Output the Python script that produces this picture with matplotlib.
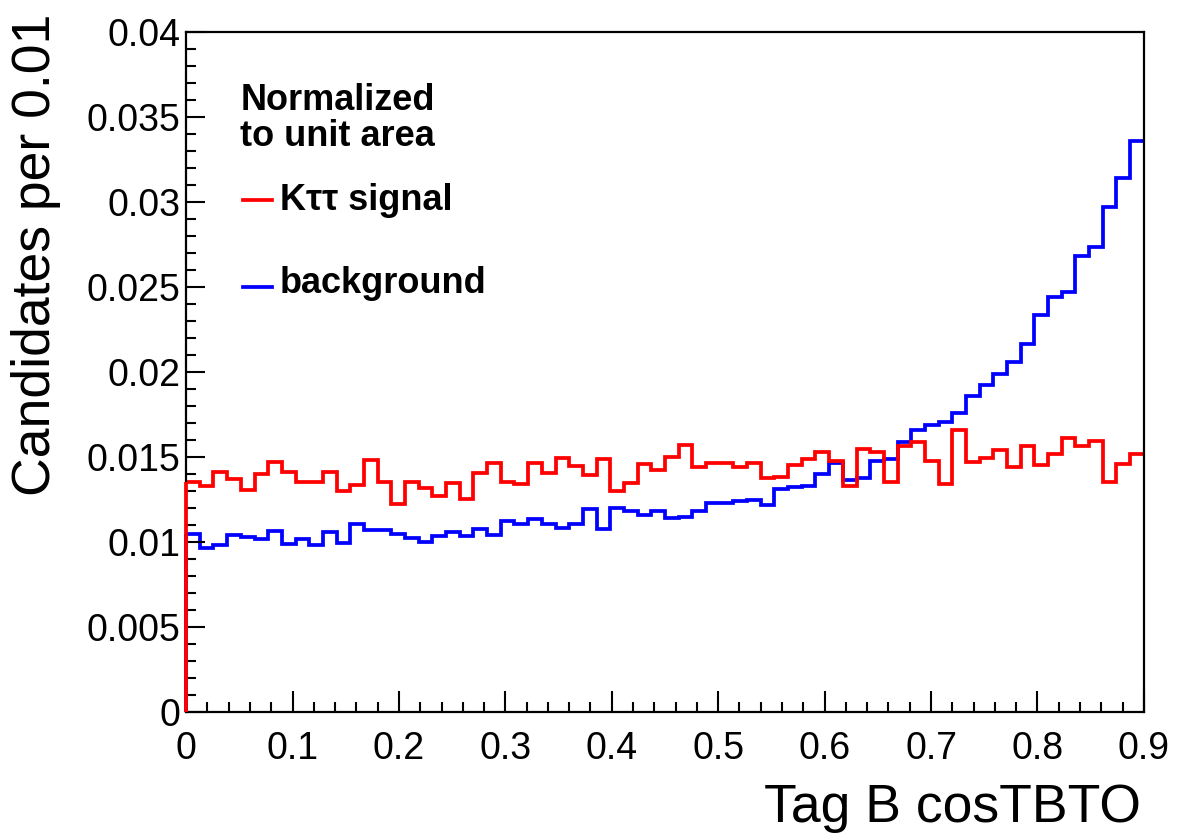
import numpy as np
import matplotlib
matplotlib.use("Agg")
import matplotlib.pyplot as plt
from matplotlib.ticker import MultipleLocator, FuncFormatter
from matplotlib.lines import Line2D

plt.rcParams['font.family'] = ['Liberation Sans', 'DejaVu Sans']

# histogram binning: 70 bins over [0, 0.9]
x_min, x_max, n_bins = 0.0, 0.9, 70
edges = np.linspace(x_min, x_max, n_bins + 1)

# normalized to unit area
signal = [0.01355, 0.01331, 0.0141, 0.01369, 0.01304, 0.0140, 0.01472, 0.0141, 0.01351, 0.01351,
          0.0141, 0.0130, 0.01335, 0.01482, 0.01351, 0.01222, 0.01355, 0.01319, 0.01273, 0.01345,
          0.01253, 0.01404, 0.01463, 0.01355, 0.01341, 0.01467, 0.01408, 0.01496, 0.01449, 0.01394,
          0.01486, 0.0130, 0.01349, 0.01457, 0.01424, 0.01502, 0.01571, 0.01443, 0.01463, 0.01463,
          0.01439, 0.01463, 0.01375, 0.01384, 0.01453, 0.01488, 0.01531, 0.01476, 0.01329, 0.01549,
          0.01531, 0.01355, 0.01567, 0.0159, 0.01478, 0.01339, 0.01659, 0.01472, 0.01496, 0.01541,
          0.01441, 0.01565, 0.01453, 0.01518, 0.0161, 0.01565, 0.01596, 0.01355, 0.01457, 0.01518]

background = [0.01045, 0.00963, 0.00982, 0.01041, 0.01027, 0.01016, 0.01065, 0.00986, 0.01018, 0.00982,
              0.01061, 0.00996, 0.01106, 0.01071, 0.01071, 0.01045, 0.01022, 0.00998, 0.01037, 0.01061,
              0.01037, 0.01076, 0.01041, 0.01125, 0.01106, 0.01135, 0.01104, 0.01084, 0.01104, 0.01192,
              0.01075, 0.01198, 0.01184, 0.01159, 0.01184, 0.01139, 0.01149, 0.01184, 0.01231, 0.01231,
              0.01240, 0.01247, 0.01218, 0.01312, 0.01325, 0.01329, 0.01398, 0.01463, 0.01365, 0.01375,
              0.01474, 0.01488, 0.01586, 0.01657, 0.01688, 0.01704, 0.01761, 0.01861, 0.01924, 0.01986,
              0.02057, 0.02165, 0.02335, 0.02443, 0.02473, 0.02682, 0.02733, 0.02973, 0.03139, 0.03361]

sig_label = "K\u03c4\u03c4 signal"
bkg_label = "background"
note = ["Normalized", "to unit area"]

fig = plt.figure(figsize=(11.78, 8.36), dpi=100)
ax = fig.add_axes([0.158, 0.1483, 0.813, 0.8134])

ax.stairs(background, edges, color='blue', linewidth=2.7, baseline=None)
ax.stairs(signal, edges, color='red', linewidth=2.7, baseline=None)
# left edge of the histograms drops to zero (drawn over the frame like ROOT)
ax.vlines(edges[0], 0, background[0], color='blue', linewidth=2.7, zorder=3, clip_on=False)
ax.vlines(edges[0], 0, signal[0], color='red', linewidth=2.7, zorder=3, clip_on=False)

ax.set_xlim(x_min, x_max)
ax.set_ylim(0, 0.04)

ax.xaxis.set_major_locator(MultipleLocator(0.1))
ax.xaxis.set_minor_locator(MultipleLocator(0.02))
ax.yaxis.set_major_locator(MultipleLocator(0.005))
ax.yaxis.set_minor_locator(MultipleLocator(0.001))
fmt = FuncFormatter(lambda v, p: '{:g}'.format(round(v, 6)))
ax.xaxis.set_major_formatter(fmt)
ax.yaxis.set_major_formatter(fmt)

ax.tick_params(which='both', direction='in', top=False, right=False, width=1.5, color='black')
ax.tick_params(axis='y', which='major', length=14, labelsize=27, pad=4)
ax.tick_params(axis='y', which='minor', length=7)
ax.tick_params(axis='x', which='major', length=15, labelsize=27, pad=14)
ax.tick_params(axis='x', which='minor', length=7)
for s in ax.spines.values():
    s.set_linewidth(1.6)

ax.set_xlabel("Tag B cosTBTO", fontsize=38.5, loc='right')
ax.set_ylabel("Candidates per 0.01", fontsize=38.5, loc='top')
ax.xaxis.set_label_coords(0.997, -0.105)
ax.yaxis.set_label_coords(-0.131, 1.027)

# legend block
ax.text(0.0564, 0.885, note[0], transform=ax.transAxes, fontsize=26, fontweight='bold', va='baseline')
ax.text(0.0564, 0.832, note[1], transform=ax.transAxes, fontsize=26, fontweight='bold', va='baseline')
ax.add_line(Line2D([0.0595, 0.0898], [0.753, 0.753], transform=ax.transAxes, color='red', linewidth=2.7))
ax.text(0.098, 0.738, sig_label, transform=ax.transAxes, fontsize=26, fontweight='bold', va='baseline')
ax.add_line(Line2D([0.0595, 0.0898], [0.625, 0.625], transform=ax.transAxes, color='blue', linewidth=2.7))
ax.text(0.098, 0.616, bkg_label, transform=ax.transAxes, fontsize=26, fontweight='bold', va='baseline')

fig.savefig("out.png", dpi=100)
